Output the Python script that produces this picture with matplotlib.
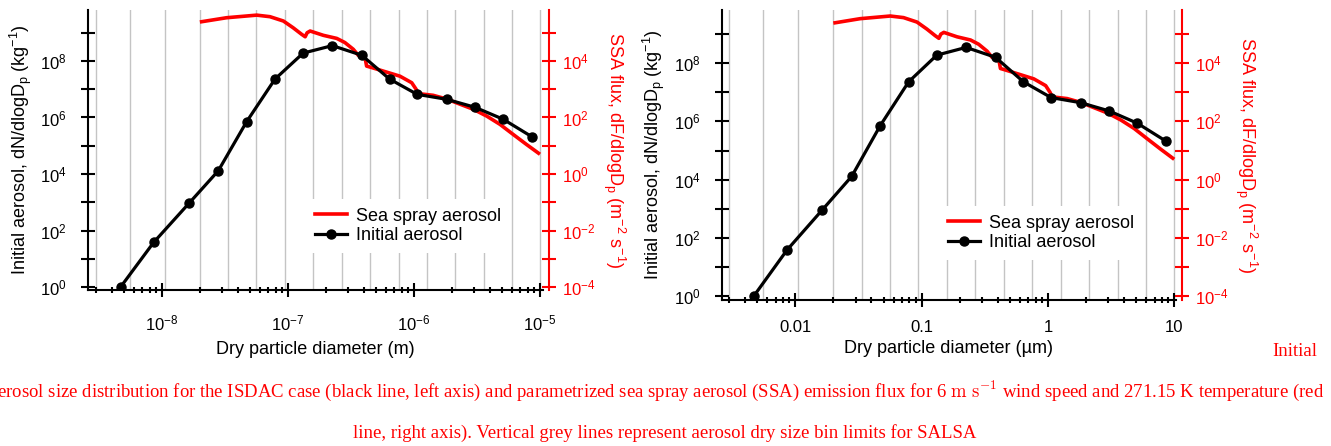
import matplotlib
matplotlib.use('Agg')
import matplotlib.pyplot as plt
from matplotlib.lines import Line2D
from matplotlib.ticker import FixedLocator, NullFormatter

plt.rcParams['font.family'] = ['Liberation Sans', 'DejaVu Sans']
plt.rcParams['mathtext.fontset'] = 'custom'
plt.rcParams['mathtext.rm'] = 'Liberation Sans'
plt.rcParams['mathtext.it'] = 'Liberation Sans:italic'
plt.rcParams['mathtext.bf'] = 'Liberation Sans:bold'

# SALSA dry size bin limits (m)
bin_limits = [3.0e-9, 5.6e-9, 1.05e-8, 2.0e-8, 3.35e-8, 5.6e-8, 9.45e-8, 1.58e-7,
              2.67e-7, 4.5e-7, 7.55e-7, 1.27e-6, 2.13e-6, 3.58e-6, 6.0e-6, 1.0e-5]

# initial aerosol size distribution (m, kg-1)
init_d = [4.7e-9, 8.6e-9, 1.64e-8, 2.8e-8, 4.7e-8, 7.9e-8, 1.32e-7, 2.25e-7,
          3.85e-7, 6.4e-7, 1.06e-6, 1.82e-6, 3.05e-6, 5.1e-6, 8.6e-6]
init_n = [1.0, 38, 920, 1.3e4, 7.1e5, 2.3e7, 1.9e8, 3.5e8,
          1.6e8, 2.3e7, 6.6e6, 4.4e6, 2.3e6, 8.7e5, 2.1e5]

# sea spray aerosol emission flux (m, m-2 s-1)
ssa_d = [2.0e-8, 3.26e-8, 5.65e-8, 7.2e-8, 9.2e-8, 1.1e-7, 1.28e-7, 1.37e-7, 1.42e-7,
         1.5e-7, 1.91e-7, 2.44e-7, 2.83e-7, 3.3e-7, 3.61e-7, 4.08e-7, 4.21e-7, 4.48e-7,
         5.7e-7, 7.74e-7, 9.6e-7, 1.04e-6, 1.08e-6, 1.42e-6, 1.82e-6, 2.32e-6, 2.96e-6,
         3.78e-6, 4.82e-6, 6.14e-6, 7.84e-6, 1.0e-5]
ssa_f = [2.4e5, 3.4e5, 4.2e5, 3.7e5, 2.6e5, 1.5e5, 8.9e4, 7.2e4, 1.0e5,
         1.15e5, 8.1e4, 6.3e4, 4.5e4, 2.6e4, 1.6e4, 1.4e4, 6.6e3, 6.1e3,
         4.4e3, 2.9e3, 1.7e3, 1.0e3, 700, 610, 450, 296, 195,
         112, 57, 25, 11, 5.0]

W, H = 1331, 446
fig = plt.figure(figsize=(W / 100, H / 100), dpi=100)


def panel(px_l, px_r, px_b, px_t, scale, xlim, ylim, xticks, xticklabels, xlabel,
          leg_xy, xpad, xlabelpad, ylabelpad, rlabelpad):
    ax = fig.add_axes([px_l / W, (H - px_b) / H, (px_r - px_l) / W, (px_b - px_t) / H])
    ax2 = ax.twinx()
    ax.set_zorder(ax2.get_zorder() + 1)
    ax.patch.set_visible(False)

    for b in bin_limits:
        ax2.axvline(b * scale, color='#c4c4c4', lw=1.0, zorder=0)

    ax2.plot([d * scale for d in ssa_d], ssa_f, color='#ff0000', lw=2.6,
             solid_capstyle='butt', zorder=3)
    ax.plot([d * scale for d in init_d], init_n, color='black', lw=2.3,
            marker='o', ms=6.5, zorder=3)

    for a in (ax, ax2):
        a.set_xscale('log')
        a.set_yscale('log')
        a.set_xlim(xlim)
    ax.set_ylim(ylim)
    ax2.set_ylim(ylim[0] * 1e-4, ylim[1] * 1e-4)

    ax.spines['top'].set_visible(False)
    ax.spines['right'].set_visible(False)
    for s in ('left', 'bottom'):
        ax.spines[s].set_linewidth(1.5)
    for s in ('top', 'left', 'bottom'):
        ax2.spines[s].set_visible(False)
    ax2.spines['right'].set_color('#ff0000')
    ax2.spines['right'].set_linewidth(1.5)
    ax2.spines['right'].set_position(('outward', 4))

    ax.set_yticks([10.0 ** k for k in range(0, 10, 2)])
    ax.set_yticklabels([r'$10^{%d}$' % k for k in range(0, 10, 2)])
    ax.yaxis.set_minor_locator(FixedLocator([10.0 ** k for k in range(1, 10, 2)]))
    ax.yaxis.set_minor_formatter(NullFormatter())
    ax2.set_yticks([10.0 ** k for k in range(-4, 6, 2)])
    ax2.set_yticklabels([r'$10^{%d}$' % k for k in range(-4, 6, 2)])
    ax2.yaxis.set_minor_locator(FixedLocator([10.0 ** k for k in range(-3, 6, 2)]))
    ax2.yaxis.set_minor_formatter(NullFormatter())

    ax.set_xticks(xticks)
    ax.set_xticklabels(xticklabels)
    ax2.tick_params(axis='x', which='both', bottom=False, top=False,
                    labelbottom=False, labeltop=False)

    ax.tick_params(axis='both', which='both', direction='inout', width=1.5,
                   labelsize=12, colors='black')
    ax.tick_params(axis='y', which='both', length=9.5, pad=10.5)
    ax.tick_params(axis='x', which='major', length=9.5, pad=xpad)
    ax.tick_params(axis='x', which='minor', length=5)
    ax2.tick_params(axis='y', which='both', direction='inout', width=1.5, length=9.5,
                    pad=5, labelsize=12, colors='#ff0000')

    ax.set_xlabel(xlabel, fontsize=13, labelpad=xlabelpad)
    ax.set_ylabel(r'Initial aerosol, dN/dlogD$_\mathrm{p}$ (kg$^{-1}$)', fontsize=13,
                  labelpad=ylabelpad)
    ax2.set_ylabel(r'SSA flux, dF/dlogD$_\mathrm{p}$ (m$^{-2}$ s$^{-1}$)', fontsize=13,
                   color='#ff0000', rotation=270, labelpad=rlabelpad)

    handles = [Line2D([], [], color='#ff0000', lw=2.6),
               Line2D([], [], color='black', lw=2.3, marker='o', ms=6.5)]
    ax.legend(handles, ['Sea spray aerosol', 'Initial aerosol'], loc='center left',
              bbox_to_anchor=(leg_xy[0] / W, (H - leg_xy[1]) / H),
              bbox_transform=fig.transFigure, borderaxespad=0, borderpad=0.5,
              handlelength=1.77, handletextpad=0.5, labelspacing=0.15,
              fontsize=13, fancybox=False, framealpha=1, edgecolor='none')
    return ax


panel(88, 543, 290, 10, 1.0, (2.59e-9, 1.057e-5), (10 ** -0.106, 10 ** 9.805),
      [1e-8, 1e-7, 1e-6, 1e-5], [r'$10^{-8}$', r'$10^{-7}$', r'$10^{-6}$', r'$10^{-5}$'],
      'Dry particle diameter (m)', (306, 226), 12, 5.5, 4.5, 23)
panel(722, 1176, 300, 10, 1e6, (2.63e-3, 10.33), (10 ** -0.1375, 10 ** 9.83),
      [0.01, 0.1, 1, 10], ['0.01', '0.1', '1', '10'],
      'Dry particle diameter (\u00b5m)', (939, 233), 10, 3.5, 5, 22)

cap = dict(color='#ff0000', fontsize=13.5, family=['Liberation Serif', 'DejaVu Serif'],
           math_fontfamily='cm')
fig.text(1272 / W, (H - 351) / H, 'Initial', ha='left', va='center', **cap)
fig.text(1324 / W, (H - 391) / H,
         r'aerosol size distribution for the ISDAC case (black line, left axis) and parametrized '
         r'sea spray aerosol (SSA) emission flux for 6 $\mathrm{m\ s^{-1}}$ wind speed and '
         r'271.15 K temperature (red', ha='right', va='center', **cap)
fig.text(665 / W, (H - 433) / H,
         'line, right axis). Vertical grey lines represent aerosol dry size bin limits for SALSA',
         ha='center', va='center', **cap)

fig.savefig('out.png', dpi=100)
